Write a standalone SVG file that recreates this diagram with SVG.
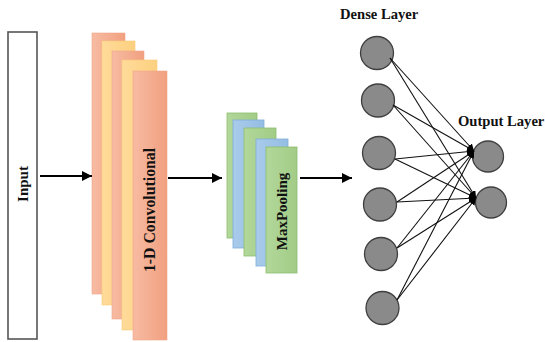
<svg xmlns="http://www.w3.org/2000/svg" width="545" height="342" viewBox="0 0 545 342">
<defs>
<linearGradient id="sal" x1="0" y1="0" x2="1" y2="0">
<stop offset="0" stop-color="#F7BBA3"/>
<stop offset="1" stop-color="#F1A07F"/>
</linearGradient>
<linearGradient id="yel" x1="0" y1="0" x2="1" y2="0">
<stop offset="0" stop-color="#FFDB9A"/>
<stop offset="1" stop-color="#FCD07F"/>
</linearGradient>
<linearGradient id="grn" x1="0" y1="0" x2="1" y2="0">
<stop offset="0" stop-color="#B2D79A"/>
<stop offset="1" stop-color="#A2CC86"/>
</linearGradient>
<linearGradient id="blu" x1="0" y1="0" x2="1" y2="0">
<stop offset="0" stop-color="#A9CBEB"/>
<stop offset="1" stop-color="#94BDE3"/>
</linearGradient>
<marker id="ah" markerUnits="userSpaceOnUse" markerWidth="10" markerHeight="10" viewBox="0 0 10 10" refX="10" refY="5" orient="auto">
<path d="M0,0 L10,5 L0,10 z" fill="#000"/>
</marker>
<marker id="ahs" markerUnits="userSpaceOnUse" markerWidth="7" markerHeight="7" viewBox="0 0 10 10" refX="10" refY="5" orient="auto">
<path d="M0,0 L10,5 L0,10 z" fill="#000"/>
</marker>
</defs>
<style>
.lbl{font-family:"Liberation Serif","Times New Roman",serif;font-weight:bold;fill:#111;}
.sal{fill:url(#sal);stroke:#F0A587;stroke-width:0.6;}
.yel{fill:url(#yel);stroke:#F8CB7A;stroke-width:0.6;}
.grn{fill:url(#grn);stroke:#8DBE6F;stroke-width:0.8;}
.blu{fill:url(#blu);stroke:#7FAEDB;stroke-width:0.8;}
.neu{fill:#8A8A8A;stroke:#3F3F3F;stroke-width:1.3;}
.big{stroke:#000;stroke-width:2;fill:none;marker-end:url(#ah);}
.cn{stroke:#111;stroke-width:1.1;fill:none;marker-end:url(#ahs);}
</style>
<rect width="545" height="342" fill="#fff"/>

<g id="input">
<rect x="8" y="32" width="29" height="307" fill="#fff" stroke="#555" stroke-width="1.6"/>
<text class="lbl" font-size="15" text-anchor="middle" transform="translate(28,184) rotate(-90)">Input</text>
</g>

<g id="conv">
<rect class="sal" x="92" y="33" width="33" height="261"/>
<rect class="yel" x="102" y="41" width="33" height="264"/>
<rect class="sal" x="112" y="51" width="32" height="268"/>
<rect class="yel" x="122" y="60" width="35" height="270"/>
<rect class="sal" x="133" y="71" width="34" height="269"/>
<text class="lbl" font-size="15.8" text-anchor="middle" transform="translate(154.5,210) rotate(-90)">1-D Convolutional</text>
</g>

<g id="maxpool">
<rect class="grn" x="227" y="113" width="30" height="125"/>
<rect class="blu" x="233" y="120" width="31" height="128"/>
<rect class="grn" x="244" y="128" width="32" height="128"/>
<rect class="blu" x="256" y="139" width="32" height="127"/>
<rect class="grn" x="266" y="147" width="31" height="126"/>
<text class="lbl" font-size="15" text-anchor="middle" transform="translate(287,211.5) rotate(-90)">MaxPooling</text>
</g>

<g id="dense">
<text class="lbl" font-size="14.6" x="340" y="19">Dense Layer</text>
<circle class="neu" cx="377" cy="53" r="16.5"/>
<circle class="neu" cx="378" cy="100.5" r="16.5"/>
<circle class="neu" cx="379" cy="153" r="16.5"/>
<circle class="neu" cx="380" cy="204.5" r="16.5"/>
<circle class="neu" cx="381" cy="254" r="16.5"/>
<circle class="neu" cx="382.5" cy="308" r="16.5"/>
</g>

<g id="output">
<text class="lbl" font-size="14.6" x="458" y="126">Output Layer</text>
<circle class="neu" cx="488" cy="156.5" r="15.5"/>
<circle class="neu" cx="491" cy="202.5" r="15.5"/>
</g>

<g id="connectors">
<line class="big" x1="40" y1="176" x2="92" y2="176"/>
<line class="big" x1="168" y1="178" x2="222" y2="178"/>
<line class="big" x1="300" y1="178" x2="352" y2="178"/>
<line class="cn" x1="390" y1="58" x2="474" y2="151"/>
<line class="cn" x1="390" y1="58" x2="476" y2="198"/>
<line class="cn" x1="393" y1="105" x2="474" y2="151"/>
<line class="cn" x1="393" y1="105" x2="476" y2="198"/>
<line class="cn" x1="395" y1="159" x2="474" y2="151"/>
<line class="cn" x1="395" y1="159" x2="476" y2="198"/>
<line class="cn" x1="397" y1="202" x2="474" y2="151"/>
<line class="cn" x1="397" y1="202" x2="476" y2="198"/>
<line class="cn" x1="397" y1="248" x2="474" y2="151"/>
<line class="cn" x1="397" y1="248" x2="476" y2="198"/>
<line class="cn" x1="397" y1="300" x2="474" y2="151"/>
<line class="cn" x1="397" y1="300" x2="476" y2="198"/>
</g>
</svg>
